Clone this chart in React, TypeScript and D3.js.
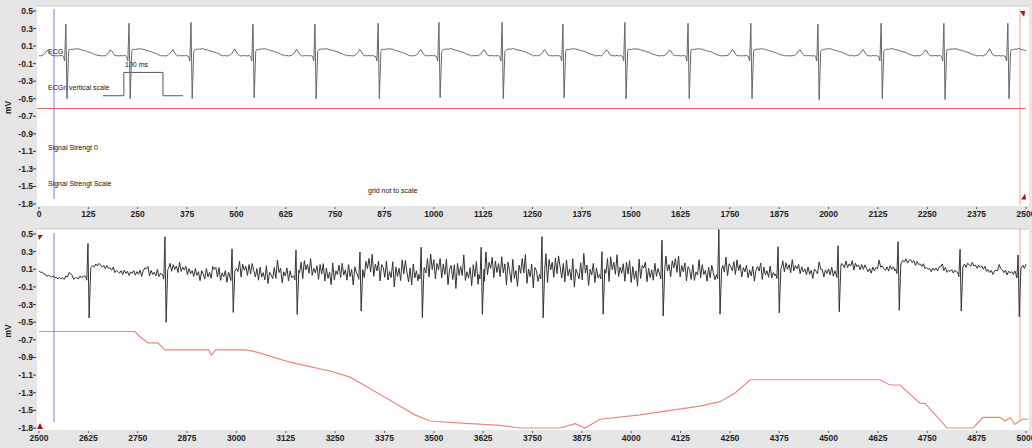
import React from 'react'
import * as d3 from 'd3'

// tick labels
const topTicksX = [0, 125, 250, 375, 500, 625, 750, 875, 1000, 1125, 1250, 1375, 1500, 1625, 1750, 1875, 2000, 2125, 2250, 2375, 2500]
const bottomTicksX = [2500, 2625, 2750, 2875, 3000, 3125, 3250, 3375, 3500, 3625, 3750, 3875, 4000, 4125, 4250, 4375, 4500, 4625, 4750, 4875, 5000]
const yTickValues = [0.5, 0.3, 0.1, -0.1, -0.3, -0.5, -0.7, -0.9, -1.1, -1.3, -1.5, -1.7]
const yTickLabels = ['0.5', '0.3', '0.1', '-0.1', '-0.3', '-0.5', '-0.7', '-0.9', '-1.1', '-1.3', '-1.5', '-1.8'] // grid not to scale

// R-peak times (ms)
const topBeats = [68, 228, 385, 542, 699, 859, 1013, 1173, 1327, 1484, 1644, 1803, 1973, 2133, 2292, 2454]
const topR = [0.36, 0.37, 0.38, 0.36, 0.36, 0.37, 0.38, 0.38, 0.36, 0.38, 0.37, 0.37, 0.36, 0.37, 0.37, 0.37]
const topS = [-0.49, -0.49, -0.49, -0.48, -0.49, -0.49, -0.48, -0.49, -0.48, -0.49, -0.49, -0.49, -0.5, -0.49, -0.5, -0.49]

const bottomBeats = [2624, 2819, 2989, 3151, 3313, 3468, 3620, 3774, 3926, 4078, 4222, 4372, 4524, 4676, 4833, 4980]
const bottomR = [0.35, 0.42, 0.3, 0.28, 0.25, 0.3, 0.3, 0.42, 0.25, 0.38, 0.5, 0.3, 0.3, 0.3, 0.25, 0.2]
const bottomS = [-0.5, -0.55, -0.42, -0.45, -0.42, -0.5, -0.46, -0.5, -0.46, -0.48, -0.46, -0.45, -0.45, -0.48, -0.45, -0.5]

// shape of one beat around the R peak (ms, mV above baseline)
const slowWave = [[-70, 0], [-60, 0], [-52, 0.03], [-46, 0.08], [-41, 0.03], [-35, 0], [-8, 0], [8, 0.07], [30, 0.08], [45, 0.06], [60, 0.04], [75, 0.01], [88, 0]]
const qrs = [[-6, -0.01], [-3, -0.06], [0, 1], [3, -1], [7, 0.05]]

// hand-read wiggle pattern and its size along the lower trace
const wiggle = [0.3, -0.5, 0.8, -0.2, 0.4, -0.9, 0.6, 0.1, -0.6, 0.9, -0.3, 0.2, -0.8, 0.5, -0.1, 0.7, -0.4, 1, -0.7, 0.3, -0.2, 0.6, -0.9, 0.4, 0.2, -0.5, 0.8, -0.6, 0.1, -0.3, 0.9, -1, 0.5, -0.2, 0.3, -0.7, 0.6, -0.4, 0.8, 0.1, -0.6, 0.4, -0.8, 0.7, -0.3, 0.2, -0.5, 1, -0.9, 0.3, 0, -0.4, 0.6, -0.7, 0.9, -0.2, 0.5, -0.8, 0.3, -0.1, 0.7, -0.6, 0.4, -0.3, 0.8, -0.9, 0.2, 0.5, -0.4, 0.6, -1, 0.7, -0.2, 0.3, -0.5, 0.9, -0.6, 0.1, -0.3, 0.4, -0.8, 0.6, -0.2, 0.8, -0.7, 0.5, -0.4, 0.2, -0.9, 1, -0.5, 0.3, -0.1, 0.6, -0.7, 0.4, -0.3]
const ampTimes = [2500, 2700, 2830, 3030, 3460, 3700, 4000, 4300, 4580, 4700, 5000]
const ampValues = [0.01, 0.03, 0.06, 0.1, 0.16, 0.18, 0.16, 0.1, 0.05, 0.03, 0.03]
const baseTimes = [2500, 2520, 2560, 2600, 2640, 2800, 3000, 3400, 3700, 4200, 4500, 4700, 4800, 5000]
const baseValues = [0.08, 0.03, -0.01, 0.0, 0.07, 0.05, 0.03, 0.05, 0.05, 0.05, 0.06, 0.12, 0.08, 0.06]

// signal strength (red) on the lower panel
const sigTimes = [2500, 2743, 2756, 2776, 2801, 2819, 2930, 2936, 2948, 3022, 3047, 3085, 3136, 3186, 3237, 3288, 3338, 3376, 3414, 3452, 3490, 3592, 3668, 3718, 3820, 3858, 3883, 3921, 4022, 4174, 4225, 4263, 4301, 4630, 4655, 4681, 4732, 4744, 4800, 4866, 4891, 4934, 4947, 4960, 4972, 4990, 5010]
const sigValues = [-0.6, -0.6, -0.66, -0.73, -0.73, -0.81, -0.81, -0.87, -0.81, -0.81, -0.83, -0.88, -0.95, -1.0, -1.05, -1.12, -1.25, -1.35, -1.45, -1.55, -1.62, -1.65, -1.67, -1.7, -1.7, -1.65, -1.7, -1.6, -1.55, -1.45, -1.4, -1.3, -1.15, -1.15, -1.21, -1.21, -1.42, -1.42, -1.7, -1.7, -1.58, -1.58, -1.62, -1.58, -1.66, -1.6, -1.6]

// 100 ms vertical scale marker (ms, mV)
const scaleBarTimes = [162, 215, 215, 314, 314, 365]
const scaleBarValues = [-0.466, -0.466, -0.2, -0.2, -0.466, -0.466]

const W = 1032
const H = 448
const gray = '#e6e6e6'
const font = 'Liberation Sans, Arial, sans-serif'

const slowScale = d3.scaleLinear().domain(slowWave.map(d => d[0])).range(slowWave.map(d => d[1])).clamp(true)

function buildTrace(t0: number, t1: number, beats: number[], rs: number[], ss: number[],
  base: (t: number) => number, amp: (t: number) => number) {
  const pts: [number, number][] = []
  let i = 0
  for (let t = t0; t <= t1; t += 4, i++) {
    const k = d3.minIndex(beats, b => Math.abs(b - t))
    const dt = t - beats[k]
    if (Math.abs(dt) < 8) continue
    pts.push([t, base(t) + slowScale(dt) + wiggle[i % wiggle.length] * amp(t)])
  }
  beats.forEach((b, k) => {
    qrs.forEach(([dt, v]) => {
      const val = dt === 0 ? rs[k] : dt === 3 ? ss[k] : v
      pts.push([b + dt, base(b + dt) + val])
    })
  })
  return pts.sort((a, b) => a[0] - b[0])
}

const topData = buildTrace(0, 2500, topBeats, topR, topS, () => -0.01, () => 0.004)
const baseScale = d3.scaleLinear().domain(baseTimes).range(baseValues)
const ampScale = d3.scaleLinear().domain(ampTimes).range(ampValues)
const bottomData = buildTrace(2500, 5000, bottomBeats, bottomR, bottomS, t => baseScale(t), t => ampScale(t))
const sigData = sigTimes.map((t, i) => [t, sigValues[i]] as [number, number])
const scaleBar = scaleBarTimes.map((t, i) => [t, scaleBarValues[i]] as [number, number])

const Panel = ({ x0, x1, ticks, top, bottom, trace, traceColor, children }: any) => {
  const x = d3.scaleLinear().domain([x0, x1]).range([39, 1026])
  const y = d3.scaleLinear().domain([0.5, -1.7]).range([top + 3, bottom - 1])
  const line = d3.line<[number, number]>().x(d => x(d[0])).y(d => y(d[1]))
  const id = 'clip' + x0
  return (
    <g>
      <clipPath id={id}><rect x={37} y={top - 2} width={991} height={bottom - top + 3} /></clipPath>
      <rect x={37} y={top - 2} width={992} height={bottom - top + 3} fill="#fff" />
      <line x1={37} x2={1029} y1={top - 2} y2={top - 2} stroke="#cfcfcf" />
      {yTickValues.map((v, i) => (
        <g key={v}>
          <line x1={33} x2={36} y1={y(v)} y2={y(v)} stroke="#333" />
          <text x={33} y={y(v) + 3} textAnchor="end" fontSize={8.5} fontWeight="bold" fill="#222" fontFamily={font}>{yTickLabels[i]}</text>
        </g>
      ))}
      <text transform={`translate(11,${y(-0.6)}) rotate(-90)`} textAnchor="middle" fontSize={8.5} fontWeight="bold" fill="#222" fontFamily={font}>mV</text>
      {ticks.map((t: number) => (
        <g key={t}>
          <line x1={x(t)} x2={x(t)} y1={bottom + 2} y2={bottom + 4} stroke="#555" />
          <text x={x(t)} y={bottom + 12} textAnchor="middle" fontSize={8.5} fontWeight="bold" fill="#222" fontFamily={font}>{t}</text>
        </g>
      ))}
      <g clipPath={`url(#${id})`}>
        {children}
        <path d={line(trace) || ''} fill="none" stroke={traceColor} strokeWidth={1} />
      </g>
    </g>
  )
}

export default function App() {
  const xt = d3.scaleLinear().domain([0, 2500]).range([39, 1026])
  const yt = d3.scaleLinear().domain([0.5, -1.7]).range([11, 204])
  const xb = d3.scaleLinear().domain([2500, 5000]).range([39, 1026])
  const yb = d3.scaleLinear().domain([0.5, -1.7]).range([235, 428])
  const sigLine = d3.line<[number, number]>().x(d => xb(d[0])).y(d => yb(d[1]))
  const barLine = d3.line<[number, number]>().x(d => xt(d[0])).y(d => yt(d[1]))
  const lbl = { fontSize: 7, fill: '#111', fontFamily: font }
  return (
    <svg width={W} height={H} style={{ position: 'absolute', left: 0, top: 0 }}>
      <rect width={W} height={H} fill={gray} />
      <Panel x0={0} x1={2500} ticks={topTicksX} top={8} bottom={205} trace={topData} traceColor="#666">
        <line x1={37} x2={1026} y1={Math.round(yt(-0.6)) + 0.5} y2={Math.round(yt(-0.6)) + 0.5} stroke="#e8675e" />
        <line x1={xt(38)} x2={xt(38)} y1={9} y2={199} stroke="#7b7be0" />
        <line x1={xt(2485)} x2={xt(2485)} y1={9} y2={205} stroke="#f0a09a" />
        <path d={`M${xt(2485)},${yt(0.5)}h5l-1,6z`} fill="#a01818" />
        <path d={`M${xt(2485) + 1},${yt(-1.65)}l4,-6l1,6z`} fill="#a01818" />
        <path d={barLine(scaleBar) || ''} fill="none" stroke="#555" />
        <text x={xt(218)} y={yt(-0.14)} {...lbl}>100 ms</text>
        <text x={48} y={yt(0.01)} {...lbl}>ECG</text>
        <text x={48} y={yt(-0.4)} {...lbl}>ECGn vertical scale</text>
        <text x={48} y={yt(-1.08)} {...lbl}>Signal Strengt 0</text>
        <text x={48} y={yt(-1.49)} {...lbl}>Signal Strengt Scale</text>
        <text x={368} y={yt(-1.58)} {...lbl}>grid not to scale</text>
      </Panel>
      <Panel x0={2500} x1={5000} ticks={bottomTicksX} top={231} bottom={429} trace={bottomData} traceColor="#333">
        <path d={sigLine(sigData) || ''} fill="none" stroke="#e88880" strokeWidth={1.2} />
        <line x1={xb(2538)} x2={xb(2538)} y1={233} y2={422} stroke="#7b7be0" />
        <line x1={xb(4985)} x2={xb(4985)} y1={229} y2={422} stroke="#f0a09a" />
        <path d={`M38,235h5l-4,5z`} fill="#a01818" />
        <path d={`M37,429l3,-6l3,6z`} fill="#a01818" />
      </Panel>
    </svg>
  )
}
